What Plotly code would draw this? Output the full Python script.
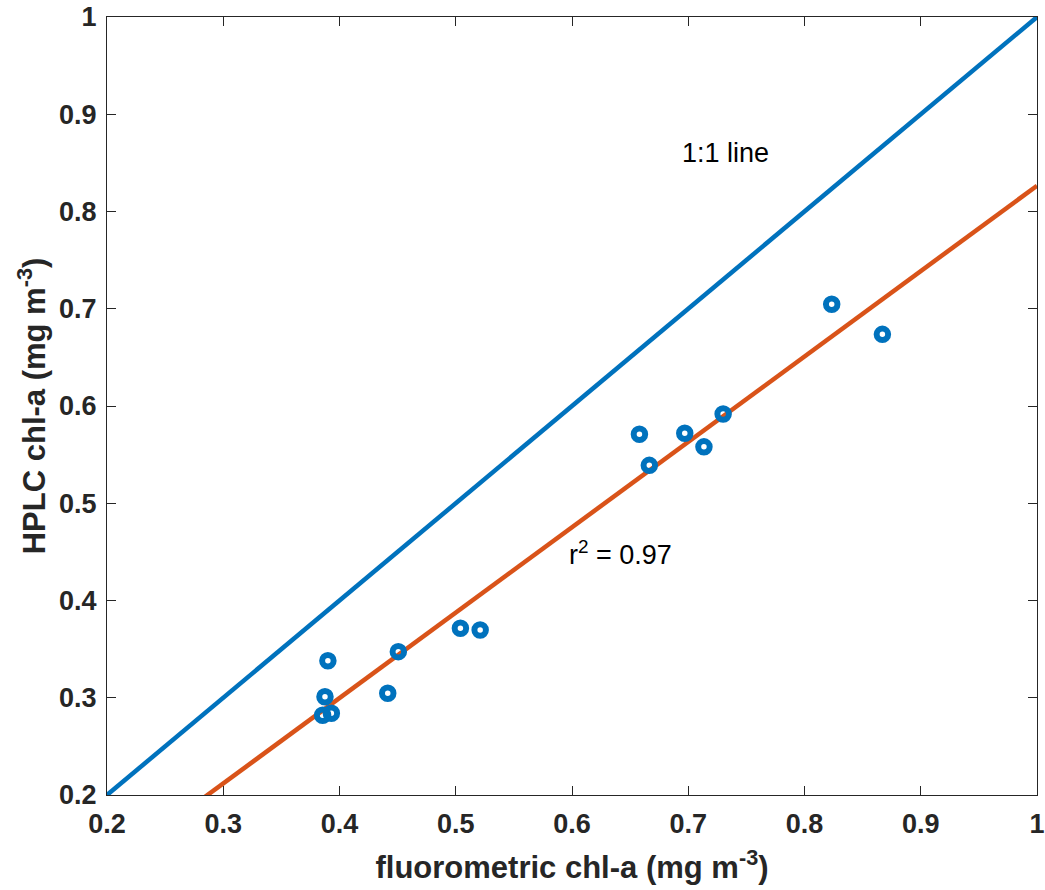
import plotly.graph_objects as go

# Paired chlorophyll-a measurements (mg m^-3)
fluorometric = [0.390, 0.3875, 0.3855, 0.393, 0.4415, 0.4506, 0.504, 0.521,
                0.658, 0.6665, 0.697, 0.7135, 0.730, 0.8234, 0.867]
hplc = [0.338, 0.301, 0.282, 0.284, 0.3046, 0.3474, 0.3714, 0.3697,
        0.571, 0.539, 0.572, 0.558, 0.5918, 0.7046, 0.6737]

# Linear regression coefficients and reported r^2
fit_slope = 0.878
fit_intercept = -0.0515
r_squared = 0.97

line_x = [0.2, 1.0]
fit_y = [fit_slope * v + fit_intercept for v in line_x]

BLUE = "#0072BD"
ORANGE = "#D95319"
TXT = "#262626"
FONT = "Liberation Sans, Arial, Helvetica, sans-serif"

fig = go.Figure()

# 1:1 reference line
fig.add_trace(go.Scatter(x=line_x, y=line_x, mode="lines",
                         line=dict(color=BLUE, width=4.5), showlegend=False))
# regression line
fig.add_trace(go.Scatter(x=line_x, y=fit_y, mode="lines",
                         line=dict(color=ORANGE, width=4.5), showlegend=False))
# observations
fig.add_trace(go.Scatter(x=fluorometric, y=hplc, mode="markers",
                         marker=dict(symbol="circle-open", size=11.5, color=BLUE,
                                     line=dict(color=BLUE, width=6)),
                         showlegend=False, cliponaxis=False))

fig.add_annotation(x=0.732, y=0.860, text="1:1 line", showarrow=False,
                   font=dict(family=FONT, size=27, color="black"))
fig.add_annotation(x=0.596, y=0.449, xanchor="left",
                   text=f"r<sup>2</sup> = {r_squared:.2f}", showarrow=False,
                   font=dict(family=FONT, size=27, color="black"))

tickvals = [0.2, 0.3, 0.4, 0.5, 0.6, 0.7, 0.8, 0.9, 1.0]
ticktext = ["0.2", "0.3", "0.4", "0.5", "0.6", "0.7", "0.8", "0.9", "1"]

axis_common = dict(
    range=[0.2, 1.0], tickvals=tickvals, ticktext=ticktext, automargin=False,
    showgrid=False, zeroline=False, showline=True, linecolor=TXT, linewidth=1,
    mirror="allticks", ticks="inside", ticklen=9, tickcolor=TXT, tickwidth=1,
    tickfont=dict(family=FONT, size=27, color=TXT, weight="bold"),
)

fig.update_xaxes(**axis_common, ticklabelstandoff=5,
                 title=dict(text="fluorometric chl-a (mg m<sup>-3</sup>)",
                            font=dict(family=FONT, size=31, color=TXT, weight="bold"),
                            standoff=17))
fig.update_yaxes(**axis_common, ticklabelstandoff=4,
                 title=dict(text="HPLC chl-a (mg m<sup>-3</sup>)",
                            font=dict(family=FONT, size=31, color=TXT, weight="bold"),
                            standoff=4))

fig.update_layout(
    width=1045, height=890,
    margin=dict(l=107, r=8, t=17, b=95),
    paper_bgcolor="white", plot_bgcolor="white",
    font=dict(family=FONT, color=TXT),
)

fig.write_html("out.html")
